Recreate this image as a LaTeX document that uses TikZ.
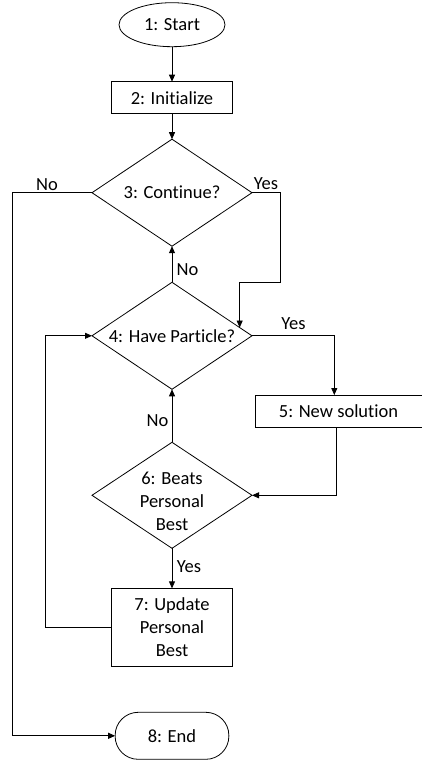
\documentclass[tikz,border=0pt]{standalone}
\usepackage{fontspec}
\setmainfont[Ligatures=NoCommon]{Carlito}
\usetikzlibrary{shapes.geometric,arrows.meta,calc}
\begin{document}
\begin{tikzpicture}[x=1pt,y=-1pt,
  font=\fontsize{18.5}{23}\selectfont,
  every node/.style={inner sep=0pt, outer sep=0pt},
  shp/.style={draw, line width=0.8pt},
  procbox/.style={shp, rectangle, minimum width=121.4pt},
  decision/.style={shp, diamond, minimum width=160pt, minimum height=107pt},
  arr/.style={line width=0.8pt, -{Triangle[length=7pt,width=6pt]}},
  lbl/.style={inner sep=0pt}
]
\useasboundingbox (0,0) rectangle (422,760);

% process steps
\node[shp, ellipse, minimum width=106pt, minimum height=44pt] (start) at (172,24.7) {1: Start};
\node[procbox, minimum height=32pt] (init) at (172,97.7) {2: Initialize};
\node[decision] (d3) at (172,192.7) {};
\node (t3) at (172,192.7) {3: Continue?};
\node[decision] (d4) at (172,335.8) {};
\node (t4) at (172,335.8) {4: Have Particle?};
\node[shp, rectangle, minimum width=170pt, minimum height=32.3pt] (new) at (340,411.2) {};
\node (t5) at (338.5,411.2) {5: New solution};
\node[decision, minimum height=106pt] (d6) at (172,495.3) {};
\node[align=center] (t6) at (172,501) {6: Beats\\Personal\\Best};
\node[procbox, minimum height=77.7pt, align=center] (upd) at (172,627.2) {7: Update\\Personal\\Best};
\node[shp, rectangle, rounded corners=23pt, minimum width=113.7pt, minimum height=47pt] (end) at (172,735.8) {8: End};

% helper points
\coordinate (j4) at ($(d4.east)!0.154!(d4.north)$);
\coordinate (n5) at (334.3,0 |- new.north);
\coordinate (s5) at (336,0 |- new.south);
\coordinate (loopx) at (45,0 |- upd.west);

% connectors
\draw[arr] (start) -- (init);
\draw[arr] (init) -- (d3.north);
\draw[arr] (d3.west) -- (12.3,192.7) |- (end.west);
\draw[arr] (d3.east) -| (280,282.3) -| (j4);
\draw[arr] (d4.north) -- (d3.south);
\draw[arr] (d4.east) -| (n5);
\draw[arr] (s5) |- (d6.east);
\draw[arr] (d6.north) -- (d4.south);
\draw[arr] (d6.south) -- (upd.north);
\draw[arr] (upd.west) -- (loopx) |- (d4.west);

% branch labels
\node[lbl] (no3) at (47,185) {No};
\node[lbl] (yes3) at (266,184) {Yes};
\node[lbl] (no4) at (187.5,270) {No};
\node[lbl] (yes4) at (293.5,324) {Yes};
\node[lbl] (no6) at (157.5,421) {No};
\node[lbl] (yes6) at (189,566.7) {Yes};
\end{tikzpicture}
\end{document}
